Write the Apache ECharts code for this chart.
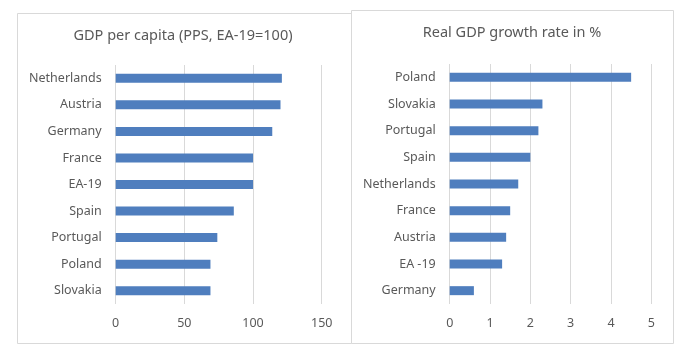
<!DOCTYPE html>
<html>
<head>
<meta charset="utf-8">
<script src="https://cdn.jsdelivr.net/npm/echarts@6/dist/echarts.min.js"></script>
<style>
html,body{margin:0;padding:0;background:#fff;}
#chart{width:693px;height:364px;}
</style>
</head>
<body>
<div id="chart"></div>
<script>
const leftTitle = 'GDP per capita (PPS, EA-19=100)';
const leftCategories = ['Netherlands','Austria','Germany','France','EA-19','Spain','Portugal','Poland','Slovakia'];
const leftValues = [121, 120, 114, 100, 100, 86, 74, 69, 69];
const leftTicks = {min: 0, max: 150, interval: 50};

const rightTitle = 'Real GDP growth rate in %';
const rightCategories = ['Poland','Slovakia','Portugal','Spain','Netherlands','France','Austria','EA -19','Germany'];
const rightValues = [4.5, 2.3, 2.2, 2.0, 1.7, 1.5, 1.4, 1.3, 0.6];
const rightTicks = {min: 0, max: 5, interval: 1};

const FONT = '"Noto Sans", "Open Sans", sans-serif';
const TXT = '#595959';
const GRIDC = '#d9d9d9';
const BAR = '#4F7EBE';

function valAxis(idx, t) {
  return {
    type: 'value', gridIndex: idx, min: t.min, max: t.max, interval: t.interval,
    axisLine: {show: false}, axisTick: {show: false},
    splitLine: {show: true, lineStyle: {color: GRIDC, width: 1}},
    axisLabel: {color: TXT, fontFamily: FONT, fontSize: 12.5, margin: 13}
  };
}
function catAxis(idx, cats) {
  return {
    type: 'category', gridIndex: idx, data: cats, inverse: true,
    axisLine: {show: false}, axisTick: {show: false},
    axisLabel: {color: TXT, fontFamily: FONT, fontSize: 12.5, margin: 14}
  };
}

const chart = echarts.init(document.getElementById('chart'), null, {renderer: 'canvas'});
chart.setOption({
  animation: false,
  backgroundColor: '#fff',
  graphic: [
    {type: 'rect', shape: {x: 17.5, y: 13.5, width: 334, height: 330}, style: {fill: 'none', stroke: GRIDC, lineWidth: 1}, z: -1},
    {type: 'rect', shape: {x: 351.5, y: 10.5, width: 322, height: 333}, style: {fill: '#fff', stroke: GRIDC, lineWidth: 1}, z: -1}
  ],
  title: [
    {text: leftTitle, left: 183, top: 28, textAlign: 'center', padding: 0,
     textStyle: {color: TXT, fontFamily: FONT, fontSize: 14.5, fontWeight: 'normal'}},
    {text: rightTitle, left: 512, top: 25, textAlign: 'center', padding: 0,
     textStyle: {color: TXT, fontFamily: FONT, fontSize: 14.5, fontWeight: 'normal'}}
  ],
  grid: [
    {left: 115.7, right: 693 - 321.7, top: 65, bottom: 364 - 304, containLabel: false},
    {left: 449.7, right: 693 - 651.3, top: 64, bottom: 364 - 304, containLabel: false}
  ],
  xAxis: [valAxis(0, leftTicks), valAxis(1, rightTicks)],
  yAxis: [catAxis(0, leftCategories), catAxis(1, rightCategories)],
  series: [
    {type: 'bar', xAxisIndex: 0, yAxisIndex: 0, data: leftValues, barWidth: 9, itemStyle: {color: BAR}},
    {type: 'bar', xAxisIndex: 1, yAxisIndex: 1, data: rightValues, barWidth: 9, itemStyle: {color: BAR}}
  ]
});
</script>
</body>
</html>
